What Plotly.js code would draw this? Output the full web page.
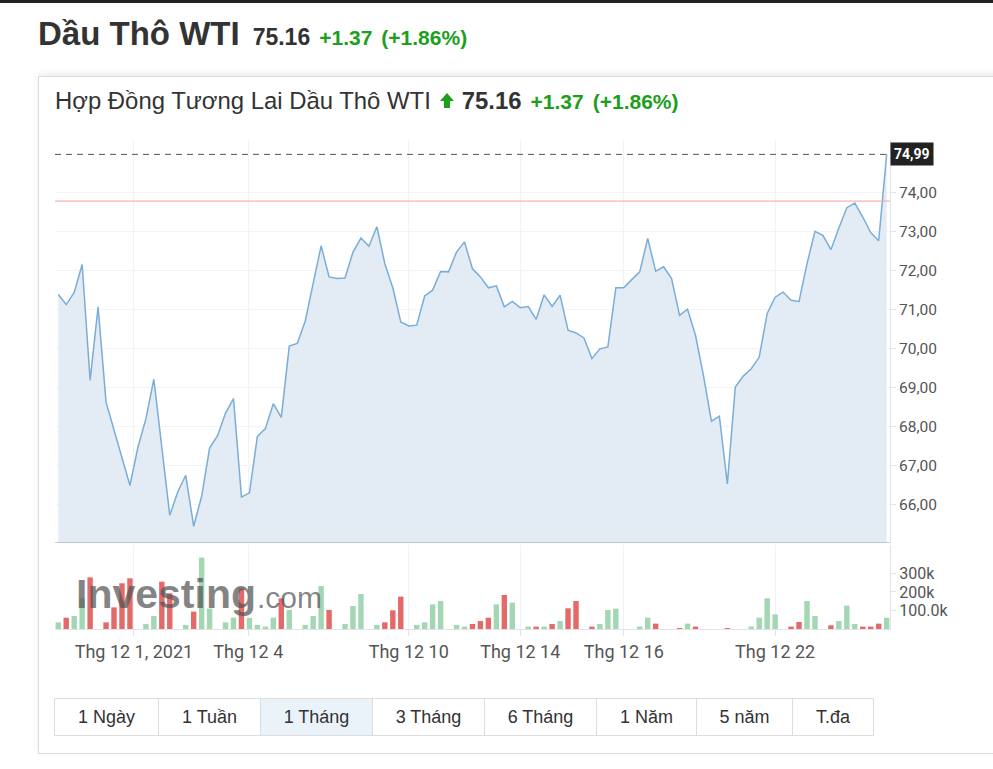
<!DOCTYPE html>
<html><head><meta charset="utf-8">
<script src="https://cdn.plot.ly/plotly-3.0.1.min.js"></script>
<style>
body{margin:0;background:#fff;font-family:"Liberation Sans",Arial,sans-serif;width:993px;height:769px;overflow:hidden;position:relative;color:#333}
#topbar{position:absolute;left:0;top:0;width:993px;height:3px;background:#222}
#head{position:absolute;left:38px;top:15px;white-space:nowrap}
#head .name{font-size:33px;font-weight:bold;color:#333}
#head .last{font-size:23px;font-weight:bold;color:#333;margin-left:13px}
#head .chg{font-size:21px;font-weight:bold;color:#1d9f1d;margin-left:9px}
#box{position:absolute;left:38px;top:76px;width:970px;height:676px;border:1px solid #dcdcdc;box-shadow:0 -3px 6px rgba(0,0,0,0.07)}
#sub{position:absolute;left:55px;top:87px;white-space:nowrap;font-size:23.9px;color:#333}
#sub .arr{display:inline-block;width:0;height:0;border-left:7px solid transparent;border-right:7px solid transparent;border-bottom:8px solid #1d9f1d;position:relative;top:-8px;margin-left:9px}
#sub .arrs{display:inline-block;width:6px;height:7px;background:#1d9f1d;position:relative;top:-1px;left:-10px;margin-right:-6px}
#sub .last{font-weight:bold;margin-left:8px}
#sub .chg{font-weight:bold;color:#1d9f1d;margin-left:9px;font-size:21px}
#chart{position:absolute;left:38px;top:130px;width:955px;height:540px}
#btns{position:absolute;left:55px;top:698px;height:37px;display:flex}
#btns div{box-sizing:border-box;height:38px;border:1px solid #dddddd;margin-left:-1px;font-size:18px;color:#333;display:flex;align-items:center;justify-content:center;background:#fff}
#btns div.sel{background:#ebf3fa}
</style></head>
<body>
<div id="topbar"></div>
<div id="head"><span class="name">Dầu Thô WTI</span><span class="last">75.16</span><span class="chg">+1.37</span><span class="chg">(+1.86%)</span></div>
<div id="box"></div>
<div id="sub">Hợp Đồng Tương Lai Dầu Thô WTI<span class="arr"></span><span class="arrs"></span><span class="last">75.16</span><span class="chg">+1.37</span><span class="chg">(+1.86%)</span></div>
<div id="chart"></div>
<div id="btns"></div>
<script>
// ---- data ----
const price = [71.39,71.13,71.44,72.16,69.18,71.07,68.62,67.91,67.21,66.48,67.46,68.19,69.21,67.46,65.71,66.31,66.74,65.43,66.20,67.44,67.76,68.34,68.71,66.18,66.29,67.74,67.94,
68.58,68.23,70.06,70.13,70.70,71.71,72.64,71.84,71.80,71.81,72.48,72.84,72.63,73.13,72.18,71.56,70.68,70.58,70.60,71.35,71.50,71.98,71.97,72.48,
72.74,72.05,71.84,71.56,71.61,71.07,71.21,71.05,71.08,70.75,71.38,71.08,71.37,70.47,70.40,70.27,69.74,69.99,70.04,71.56,71.56,71.77,71.97,72.83,71.99,72.10,
71.80,70.85,71.01,70.34,69.31,68.13,68.26,66.52,69.01,69.29,69.48,69.78,70.90,71.32,71.45,71.24,71.21,72.18,73.01,72.91,72.54,73.10,73.62,73.74,73.38,72.98,72.77,74.99];
const volumeK = [36,61,70,166,279,0,36,117,247,274, 0,27,70,256,193,0,22,94,386,110, 0,36,61,220,60,22,13,61,166,103, 0,22,70,232,103,0,27,124,189,0,
22,36,101,175,0,22,36,133,151,0, 22,13,27,43,61,133,184,142,0,13, 13,13,27,43,112,151,0,13,27,103, 110,0,0,13,61,29,0,0,5,29,
13,0,0,0,5,0,0,13,61,166, 79,0,13,38,151,70,0,20,43,126, 27,13,13,29,61];
const volDir = ["uduududddd","uuudduuduu","uuuduuuudu","uuuuduuuuu","uddduuuuuu","uuddduduuu","dududduduu","uuuuuduudu","duuuduuuuu","uudduuuduu","udddu"];
const xTickPos = [9.5, 23.85, 44, 58, 71, 90];
const xTickText = ["Thg 12 1, 2021","Thg 12 4","Thg 12 10","Thg 12 14","Thg 12 16","Thg 12 22"];
const yTickVals = [66,67,68,69,70,71,72,73,74];
const yTickText = ["66,00","67,00","68,00","69,00","70,00","71,00","72,00","73,00","74,00"];
const volTickVals = [100000,200000,300000];
const volTickText = ["100.0k","200k","300k"];
const lastPrice = 74.99, lastPriceText = "74,99";
const prevClose = 73.79;
const ranges = ["1 Ngày","1 Tuần","1 Tháng","3 Tháng","6 Tháng","1 Năm","5 năm","T.đa"];
const selectedRange = "1 Tháng";

// ---- build ----
const idx = price.map((_, i) => i);
const vol = volumeK.map(v => v * 1000);
const dirs = volDir.join("").split("");
const volColors = vol.map((_, i) => dirs[i] === "d" ? "rgb(228,106,106)" : "rgb(163,214,178)");

const traces = [
  {x: idx, y: price, type: "scatter", mode: "lines", xaxis: "x", yaxis: "y",
   line: {color: "rgb(122,173,215)", width: 1.5}, fill: "tozeroy", fillcolor: "rgb(227,236,244)", hoverinfo: "skip"},
  {x: idx, y: vol, type: "bar", xaxis: "x", yaxis: "y2", width: 0.68,
   marker: {color: volColors, line: {width: 0}}, hoverinfo: "skip"}
];

const N = price.length;
const layout = {
  width: 955, height: 540,
  margin: {l: 17, r: 103, t: 10, b: 41},
  paper_bgcolor: "rgba(0,0,0,0)", plot_bgcolor: "#fff",
  showlegend: false, hovermode: false,
  font: {family: "Roboto", size: 15, color: "#555"},
  xaxis: {anchor: "y2", range: [-0.41, N - 1 + 0.42], tickmode: "array", tickvals: xTickPos, ticktext: xTickText,
    showgrid: true, gridcolor: "#f1f2f5", gridwidth: 1, zeroline: false,
    showline: true, linecolor: "#e0e3eb", linewidth: 1, ticks: "outside", ticklen: 6, tickcolor: "#e0e3eb",
    tickfont: {family: "Roboto", size: 18, color: "#555"}, fixedrange: true},
  yaxis: {domain: [0.1759, 1], side: "right", range: [65.0, 75.36], tickmode: "array", tickvals: yTickVals, ticktext: yTickText,
    showgrid: true, gridcolor: "#f3f4f7", zeroline: false, showline: true, linecolor: "#e0e3eb",
    ticks: "outside", ticklen: 5, tickcolor: "#e0e3eb", tickfont: {family: "Roboto", size: 15.5, color: "#555"}, fixedrange: true},
  yaxis2: {domain: [0, 0.1718], side: "right", range: [0, 454000], tickmode: "array", tickvals: volTickVals, ticktext: volTickText,
    showgrid: false, zeroline: false, showline: true, linecolor: "#e0e3eb",
    ticks: "outside", ticklen: 5, tickcolor: "#e0e3eb", tickfont: {family: "Roboto", size: 16, color: "#555"}, fixedrange: true},
  shapes: [
    {type: "line", xref: "paper", x0: 0, x1: 1, yref: "y", y0: prevClose, y1: prevClose, line: {color: "rgb(245,160,160)", width: 1}},
    {type: "line", xref: "paper", x0: 0, x1: 1, yref: "y", y0: lastPrice, y1: lastPrice, line: {color: "#555", width: 1, dash: "6px,5px"}},
    {type: "line", xref: "paper", x0: 0, x1: 1, yref: "y", y0: 65.0, y1: 65.0, line: {color: "#9ea2aa", width: 1}}
  ],
  annotations: [
    {xref: "paper", x: 1, xanchor: "left", yref: "y", y: lastPrice, yanchor: "middle", showarrow: false,
     text: "<b>" + lastPriceText + "</b>", font: {family: "Roboto", size: 14, color: "#fff"}, bgcolor: "#222", borderpad: 3},
    {xref: "x", x: 2.0, xanchor: "left", yref: "y2", y: 190000, yanchor: "middle", showarrow: false,
     text: "<b>Investing</b>", font: {family: "Liberation Sans", size: 41, color: "rgba(85,85,85,0.72)"}},
    {xref: "x", x: 24.7, xanchor: "left", yref: "y2", y: 168000, yanchor: "middle", showarrow: false,
     text: ".com", font: {family: "Liberation Sans", size: 30, color: "rgba(85,85,85,0.72)"}}
  ]
};

Plotly.newPlot("chart", traces, layout, {displayModeBar: false, staticPlot: true});

// range buttons
const widths = [105, 103, 113, 113, 113, 101, 97, 82];
const bc = document.getElementById("btns");
ranges.forEach((r, i) => {
  const d = document.createElement("div");
  d.textContent = r;
  d.style.width = widths[i] + "px";
  if (r === selectedRange) d.className = "sel";
  bc.appendChild(d);
});
</script>
</body></html>
